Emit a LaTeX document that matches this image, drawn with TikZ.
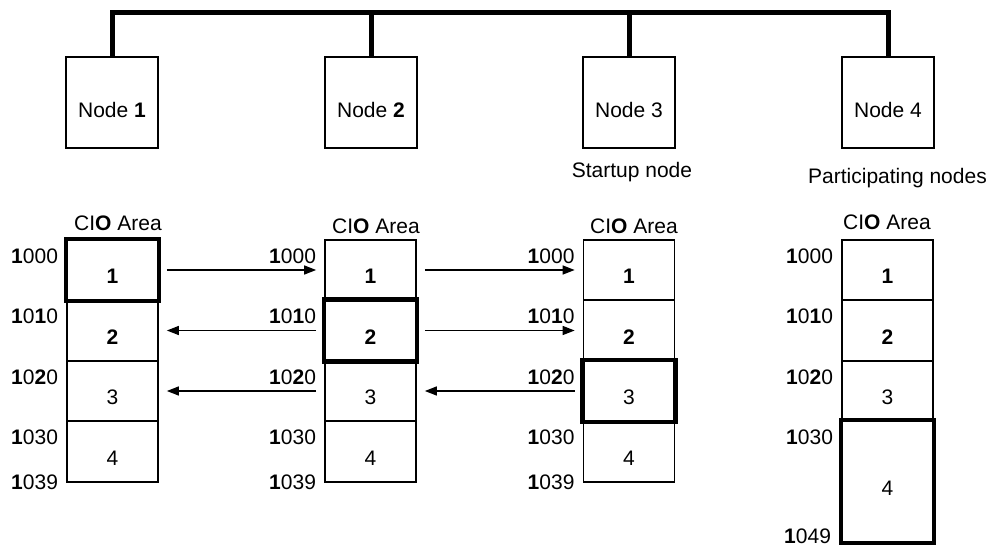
\documentclass[tikz,border=0pt]{standalone}
\usepackage{fontspec}
\setmainfont{Liberation Sans}
\usetikzlibrary{arrows.meta}
\begin{document}
\begin{tikzpicture}[x=1pt,y=-1pt,
  font=\fontsize{21}{24}\selectfont,
  nodebox/.style={draw,line width=2pt,minimum width=92pt,minimum height=91pt,inner sep=0pt,text height=30pt,text depth=0pt},
  cell/.style={draw,line width=1.7pt,minimum width=91pt,minimum height=60.5pt,inner sep=0pt,text height=27pt,text depth=0pt},
  tallcell/.style={cell,minimum height=121pt},
  hot/.style={line width=4.5pt},
  addr/.style={anchor=east,inner sep=0pt},
  bus/.style={line width=5pt},
  xfer/.style={line width=1.4pt,-{Triangle[length=12pt,width=9pt]},shorten >=8pt,shorten <=8pt},
  captxt/.style={inner sep=0pt}
]
\useasboundingbox (0,0) rectangle (989,547);

% top node boxes
\node[nodebox] (n1) at (112,102.5) {Node \textbf{1}};
\node[nodebox] (n2) at (371,102.5) {Node \textbf{2}};
\node[nodebox] (n3) at (629,102.5) {Node 3};
\node[nodebox] (n4) at (888,102.5) {Node 4};

% bus
\coordinate (b1) at (112,12);
\coordinate (b2) at (371,12);
\coordinate (b3) at (629,12);
\coordinate (b4) at (888,12);
\draw[bus,line cap=rect] (b1) -- (b4);
\foreach \i in {1,...,4} \draw[bus] (b\i) -- (n\i.north);

\node[captxt] (su) at (632,172) {Startup node};
\node[captxt,anchor=east] (pn) at (987,178) {Participating nodes};

% memory columns
\foreach \i/\x in {1/112.5,2/370.5,3/629,4/887.5}{
  \node[cell] (m\i1) at (\x,270) {\textbf{1}};
  \node[cell] (m\i2) at (\x,330.5) {\textbf{2}};
  \node[cell] (m\i3) at (\x,391) {3};
}
\foreach \i/\x in {1/112.5,2/370.5,3/629}{
  \node[cell] (m\i4) at (\x,451.5) {4};
}
\node[tallcell] (m44) at (887.5,481.5) {4};

% highlighted (own) areas
\draw[hot] (m11.north west) rectangle (m11.south east);
\draw[hot] (m22.north west) rectangle (m22.south east);
\draw[hot] (m33.north west) rectangle (m33.south east);
\draw[hot] (m44.north west) rectangle (m44.south east);

% CIO Area captions
\node[captxt] (c1) at (118,223) {CI\textbf{O} Area};
\node[captxt] (c2) at (376,226) {CI\textbf{O} Area};
\node[captxt] (c3) at (634,226) {CI\textbf{O} Area};
\node[captxt] (c4) at (887,222) {CI\textbf{O} Area};

% address labels
\foreach \i in {1,2,3,4}{
  \node[addr] (a\i0) at ([shift={(-8pt,-17pt)}]m\i1.north west) {\textbf{1}000};
  \node[addr] (a\i1) at ([shift={(-8pt,-17pt)}]m\i2.north west) {\textbf{1}0\textbf{1}0};
  \node[addr] (a\i2) at ([shift={(-8pt,-17pt)}]m\i3.north west) {\textbf{1}0\textbf{2}0};
  \node[addr] (a\i3) at ([shift={(-8pt,-17pt)}]m\i4.north west) {\textbf{1}030};
}
\foreach \i in {1,2,3}{
  \node[addr] (e\i) at ([shift={(-8pt,0pt)}]m\i4.south west) {\textbf{1}039};
}
\node[addr] (e4) at ([shift={(-10pt,6.5pt)}]m44.south west) {\textbf{1}049};

% transfers
\draw[xfer] (m11.east) -- (m21.west);
\draw[xfer] (m22.west) -- (m12.east);
\draw[xfer] (m23.west) -- (m13.east);
\draw[xfer] (m21.east) -- (m31.west);
\draw[xfer] (m22.east) -- (m32.west);
\draw[xfer] (m33.west) -- (m23.east);
\end{tikzpicture}
\end{document}
